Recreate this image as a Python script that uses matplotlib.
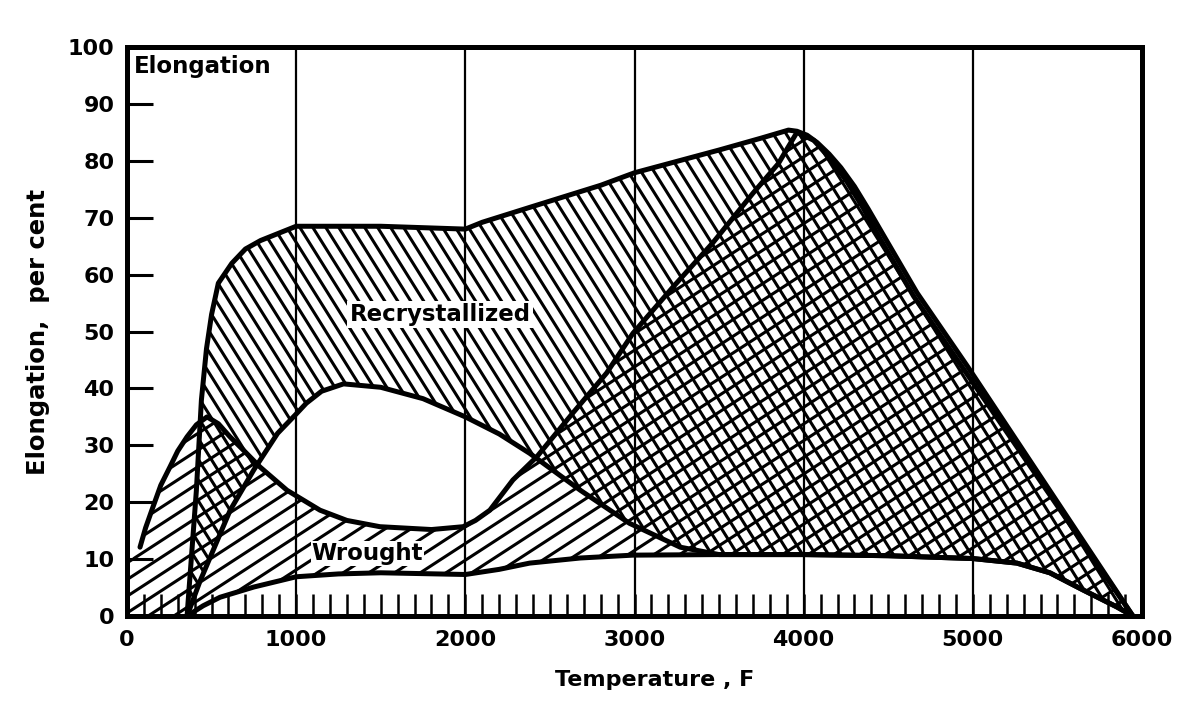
"""Elongation vs temperature for wrought and recrystallized material (hatched bands)."""
import matplotlib

matplotlib.use("Agg")
import matplotlib.pyplot as plt
import numpy as np
from matplotlib.collections import LineCollection
from matplotlib.patches import Polygon
from matplotlib.ticker import MultipleLocator

# --- data (temperature F, elongation %) ---
recryst_upper_x = [355, 385, 410, 440, 470, 500, 540, 620, 700, 790, 1000, 1500,
                   2000, 2100, 2400, 2800, 3000, 3500, 3750, 3910, 3960, 4020,
                   4080, 4150, 4220, 4300, 4380, 4470, 4670, 4970, 5946]
recryst_upper_y = [0, 12, 22, 38, 47, 53, 58.5, 62, 64.5, 66, 68.5, 68.5,
                   68, 69.2, 72, 75.7, 77.9, 81.9, 84, 85.4, 85.2, 84.5,
                   83.2, 81.2, 78.8, 75.5, 71.6, 67, 56.8, 43.8, 0]

recryst_lower_x = [355, 430, 510, 610, 750, 890, 1000, 1060, 1150, 1280, 1500,
                   1750, 2000, 2200, 2380, 2680, 2970, 3270, 3500, 4000, 4500,
                   5000, 5260, 5455, 5650, 5851, 5946]
recryst_lower_y = [0, 6, 11.6, 18.6, 25.7, 32.1, 35.5, 37.4, 39.5, 40.8, 40.2,
                   38.2, 35, 32, 28.6, 22.1, 16.3, 12.1, 10.8, 10.8, 10.6,
                   10.1, 9.3, 7.6, 4.6, 1.6, 0]

wrought_upper_x = [0, 77, 110, 154, 200, 254, 300, 355, 410, 473, 540, 609, 700,
                   786, 946, 1141, 1300, 1495, 1800, 1987, 2060, 2145, 2281,
                   2423, 2636, 2835, 2991, 3227, 3463, 3700, 3850, 3960, 4060,
                   4150, 4250, 4350, 4450, 4650, 4950, 5946]
wrought_upper_y = [9, 12.1, 15.5, 19.2, 23, 26.2, 29, 31.5, 33.6, 35, 33.8,
                   31.5, 28.8, 26.2, 22.1, 18.6, 16.8, 15.7, 15.2, 15.7, 16.8,
                   18.6, 23.9, 28, 35.7, 42.7, 49.7, 57.8, 65.6, 74.3, 79.5,
                   85, 83.6, 80.6, 76.6, 71.8, 66.4, 56.2, 43.2, 0]

wrought_lower_x = [0, 355, 450, 550, 750, 1000, 1250, 1500, 2000, 2200, 2380,
                   2680, 2990, 3500, 4000, 4500, 5000, 5260, 5455, 5650, 5851,
                   5946]
wrought_lower_y = [0, 0, 1.8, 3.3, 5.1, 6.9, 7.4, 7.6, 7.3, 8.2, 9.3, 10.2,
                   10.7, 10.8, 10.8, 10.6, 10.1, 9.3, 7.6, 4.6, 1.6, 0]

x_ticks = [0, 1000, 2000, 3000, 4000, 5000, 6000]
y_ticks = [0, 10, 20, 30, 40, 50, 60, 70, 80, 90, 100]

FONT = "DejaVu Sans"
FS = 16


def band(ax, ux, uy, lx, ly):
    """Invisible polygon between an upper and a lower curve, used for clipping."""
    pts = np.vstack([np.column_stack([ux, uy]),
                     np.column_stack([lx, ly])[::-1]])
    poly = Polygon(pts, closed=True, facecolor="none", edgecolor="none")
    ax.add_patch(poly)
    return poly


def hatch(ax, region, angle, spacing, lw=2.2):
    """Parallel hatch lines (angle in screen degrees, spacing in px) clipped to region."""
    w, h = ax.bbox.width, ax.bbox.height
    th = np.deg2rad(angle)
    d = np.array([np.cos(th), np.sin(th)])
    n = np.array([-np.sin(th), np.cos(th)])
    big = np.hypot(w, h)
    c = np.array([w / 2, h / 2])
    segs = []
    for o in np.arange(-big, big, spacing):
        p = c + n * o
        segs.append([(p - d * big) / [w, h], (p + d * big) / [w, h]])
    lc = LineCollection(segs, colors="black", linewidths=lw,
                        transform=ax.transAxes, zorder=2)
    lc.set_clip_path(region)
    ax.add_collection(lc, autolim=False)


fig = plt.figure(figsize=(11.89, 7.05), dpi=100)
ax = fig.add_axes([0.1068, 0.1262, 0.8537, 0.8071])
ax.set_xlim(0, 6000)
ax.set_ylim(0, 100)

for xv in x_ticks[1:-1]:
    ax.axvline(xv, color="black", lw=1.6, zorder=1)

rec = band(ax, recryst_upper_x, recryst_upper_y, recryst_lower_x, recryst_lower_y)
wro = band(ax, wrought_upper_x, wrought_upper_y, wrought_lower_x, wrought_lower_y)
hatch(ax, rec, -58, 11)
hatch(ax, wro, 33, 14)

line_kw = dict(color="black", lw=3.6, solid_capstyle="round",
               solid_joinstyle="round", zorder=3)
ax.plot(recryst_upper_x, recryst_upper_y, **line_kw)
ax.plot(recryst_lower_x, recryst_lower_y, **line_kw)
ax.plot(wrought_upper_x[1:], wrought_upper_y[1:], **line_kw)
ax.plot(wrought_lower_x[1:], wrought_lower_y[1:], **line_kw)

text_kw = dict(fontsize=FS + 0.5, family=FONT, fontweight="bold", zorder=5)
ax.text(1850, 53, "Recrystallized", ha="center", va="center",
        bbox=dict(facecolor="white", edgecolor="none", pad=1.5), **text_kw)
ax.text(1420, 11, "Wrought", ha="center", va="center",
        bbox=dict(facecolor="white", edgecolor="none", pad=0.5), **text_kw)
ax.text(40, 96.6, "Elongation", ha="left", va="center", **text_kw)

ax.set_xticks(x_ticks)
ax.set_yticks(y_ticks)
ax.xaxis.set_minor_locator(MultipleLocator(100))
ax.tick_params(axis="x", which="both", direction="in", length=16, width=1.8,
               top=False, pad=10)
ax.tick_params(axis="y", which="major", direction="in", length=19, width=2.2,
               right=False, pad=9)
for lab in ax.get_xticklabels() + ax.get_yticklabels():
    lab.set_fontsize(FS)
    lab.set_family(FONT)
    lab.set_fontweight("bold")

for sp in ax.spines.values():
    sp.set_linewidth(3.6)
    sp.set_zorder(6)

ax.set_xlabel("Temperature , F", fontsize=FS, family=FONT, fontweight="bold")
ax.xaxis.set_label_coords(0.52, -0.094)
ax.set_ylabel("Elongation,  per cent", fontsize=FS + 1.5, family=FONT,
              fontweight="bold")
ax.yaxis.set_label_coords(-0.076, 0.5)

fig.savefig("out.png", dpi=100, facecolor="white")
